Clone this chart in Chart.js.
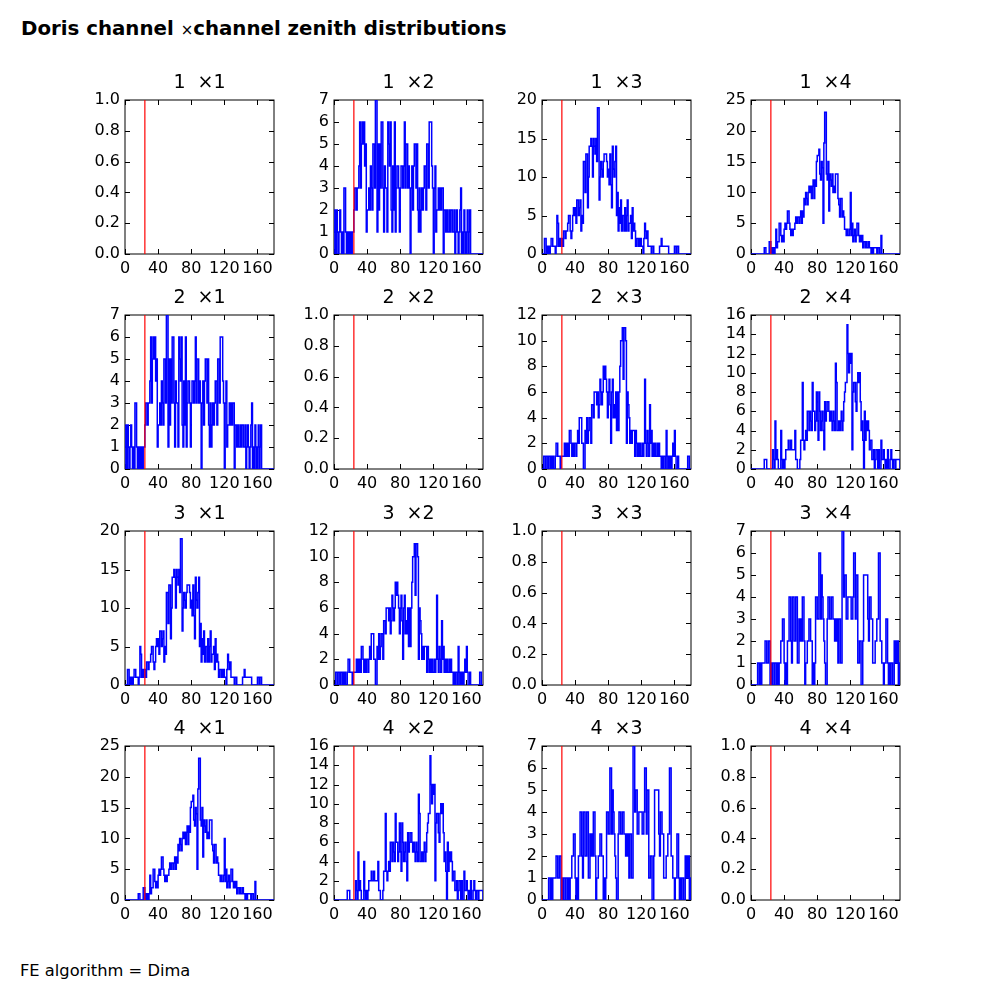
<!DOCTYPE html>
<html>
<head>
<meta charset="utf-8">
<script src="https://cdn.jsdelivr.net/npm/chart.js@4/dist/chart.umd.min.js"></script>
<style>
  body { margin: 0; background: #fff; width: 1000px; height: 1000px; position: relative; overflow: hidden; font-family: "DejaVu Sans", sans-serif; color: #000; }
  #title { position: absolute; left: 21px; top: 17px; font-weight: bold; font-size: 19.8px; white-space: nowrap; }
  #title .x { font-weight: normal; font-size: 15px; }
  #foot { position: absolute; left: 20px; top: 961px; font-size: 16.3px; white-space: nowrap; }
  canvas { position: absolute; }
</style>
</head>
<body>
<div id="title">Doris channel <span class="x">×</span>channel zenith distributions</div>
<div id="foot">FE algorithm = Dima</div>
<script>
// channels and cut
const channels = [1, 2, 3, 4];
const cutZenith = 24;
const xTicks = [0, 40, 80, 120, 160];
const xMax = 180;

// zenith histograms, 1 degree bins from 0 to 180 (pair i x j == j x i)
const h12 = [
  1,2,0,2,1,0,1,2,1,0, 1,0,3,3,1,0,1,0,1,0, 1,0,1,1,2,3,3,2,3,3,
  4,6,3,5,6,5,6,4,5,1, 2,2,3,2,4,3,2,5,5,3, 7,7,1,5,2,5,3,6,6,3,
  1,4,3,3,1,6,5,4,6,2, 1,4,2,6,1,3,4,4,3,1, 3,4,4,3,4,6,3,5,5,3,
  4,3,0,3,4,2,4,5,5,3, 5,2,1,3,1,2,3,2,3,4, 4,2,5,5,3,6,6,6,4,3,
  0,3,4,1,2,2,3,2,3,2, 3,3,0,2,2,1,2,1,1,2, 1,2,2,1,1,2,0,1,2,1,
  0,1,2,3,0,1,0,2,1,0, 1,2,0,1,2,0,0,0,0,0, 0,0,0,0,0,0,0,0,0,0
];
const h13 = [
  0,0,0,2,2,0,1,0,1,0, 1,2,2,1,1,1,0,1,5,4, 1,2,1,2,2,1,3,3,2,3,
  3,4,5,5,3,2,3,5,6,5, 6,4,7,7,5,6,7,3,5,4, 12,12,8,13,13,6,10,14,14,15,
  14,10,15,14,13,15,12,19,19,7, 10,12,11,10,12,13,13,13,12,10, 11,9,13,9,6,14,11,10,12,14,
  5,8,3,6,4,7,3,5,5,3, 6,3,5,7,3,4,4,5,2,6, 3,4,3,1,2,2,1,2,1,2,
  1,1,0,2,4,3,2,3,1,1, 1,1,0,1,1,0,0,0,0,0, 0,0,1,1,2,1,1,1,1,1,
  1,1,1,0,0,0,0,0,0,0, 1,1,0,1,1,0,0,0,0,0, 0,0,0,0,0,0,0,0,0,0
];
const h14 = [
  0,0,0,0,0,0,0,0,0,0, 0,0,0,0,0,0,1,1,0,0, 0,0,2,2,0,1,0,1,0,1,
  4,1,2,2,5,5,3,2,3,2, 4,5,4,5,7,7,5,4,3,4, 3,4,4,5,6,5,6,6,5,6,
  7,5,7,6,9,8,10,9,8,10, 11,10,11,9,11,12,9,12,11,15, 16,16,17,13,12,15,14,5,18,23,
  23,13,12,15,7,13,12,11,13,10, 11,10,13,13,13,9,8,6,9,9, 6,7,6,4,4,3,4,3,3,4,
  10,3,5,2,3,4,2,3,5,5, 3,2,3,2,3,1,2,2,1,2, 1,1,2,1,1,0,1,0,1,1,
  1,1,0,1,1,0,0,3,0,0, 0,0,0,0,0,0,0,0,0,0, 0,0,0,0,0,0,0,0,0,0
];
const h23 = [
  0,0,1,1,0,1,1,0,1,1, 0,1,0,1,0,0,1,2,2,1, 1,1,0,1,1,1,1,2,1,2,
  1,2,1,3,3,2,1,2,1,2, 2,1,2,3,2,4,4,4,2,2, 0,0,3,2,4,2,3,4,4,2,
  5,5,4,6,6,6,5,6,4,5, 7,6,5,6,8,7,8,7,6,4, 6,7,5,2,6,7,4,5,4,6,
  3,6,3,6,8,10,10,11,7,11, 11,10,2,6,5,4,2,3,2,3, 3,3,1,3,2,1,2,1,2,1,
  1,2,1,2,7,2,1,3,2,1, 5,2,3,1,2,1,2,1,1,2, 1,2,1,1,0,1,0,1,1,0,
  3,1,0,1,0,1,0,1,2,1, 3,1,0,0,1,0,0,0,0,0, 0,0,0,0,0,0,1,1,0,0
];
const h24 = [
  0,0,0,0,0,0,0,0,0,0, 0,0,0,0,0,0,1,1,1,0, 0,0,0,0,0,0,2,1,0,5,
  1,2,1,0,0,0,4,1,0,1, 0,1,2,2,2,3,2,2,3,2, 2,2,2,4,1,1,0,0,0,1,
  3,3,9,3,2,3,4,3,6,6, 4,6,5,4,9,6,6,4,5,8, 5,3,8,6,4,5,6,4,2,7,
  5,6,7,7,6,5,6,5,4,6, 5,4,11,9,4,4,5,4,5,6, 4,5,7,8,9,9,15,12,10,12,
  11,12,2,8,9,9,7,6,9,10, 9,10,7,4,5,3,0,6,3,5, 4,5,4,2,3,3,1,1,2,0,
  1,2,2,0,2,0,0,3,1,1, 2,1,0,1,0,2,0,0,1,2, 1,0,1,1,0,1,1,1,1,1
];
const h34 = [
  0,0,0,0,0,0,0,0,1,1, 0,1,0,1,1,1,1,2,2,1, 1,2,2,0,1,0,1,1,0,1,
  1,0,1,0,1,1,2,2,3,3, 1,0,1,0,2,2,4,4,2,1, 4,4,2,2,4,4,1,1,3,2,
  3,2,4,4,2,0,1,1,2,2, 3,3,2,2,0,1,0,1,4,4, 3,3,6,6,3,5,4,3,2,1,
  0,0,3,4,4,3,3,4,4,3, 3,2,3,2,3,1,3,3,1,1, 7,7,4,5,5,3,3,4,4,4,
  4,3,3,4,6,6,3,5,5,1, 1,2,2,0,0,2,5,5,5,5, 5,3,2,4,4,3,3,1,1,1,
  2,2,3,3,6,6,2,2,1,1, 0,1,1,3,3,1,0,1,0,1, 1,0,0,2,1,2,1,2,0,1
];

// y tick labels per pair
const yTicksEmpty = [0, 0.2, 0.4, 0.6, 0.8, 1.0];
const yTicks12 = [0, 1, 2, 3, 4, 5, 6, 7];
const yTicks13 = [0, 5, 10, 15, 20];
const yTicks14 = [0, 5, 10, 15, 20, 25];
const yTicks23 = [0, 2, 4, 6, 8, 10, 12];
const yTicks24 = [0, 2, 4, 6, 8, 10, 12, 14, 16];
const yTicks34 = [0, 1, 2, 3, 4, 5, 6, 7];

const pairs = {
  '1-2': [h12, yTicks12], '1-3': [h13, yTicks13], '1-4': [h14, yTicks14],
  '2-3': [h23, yTicks23], '2-4': [h24, yTicks24], '3-4': [h34, yTicks34]
};

// panel layout (pixels)
const colLeft = [125, 334, 542, 751];
const rowTop = [100, 315, 531, 746];
const axW = 149, axH = 154;
const padL = 50, padT = 36, padR = 30, padB = 28;
const FONT = '"DejaVu Sans", sans-serif';

function stepPoints(counts) {
  const bw = xMax / counts.length;
  const pts = [{ x: 0, y: 0 }];
  counts.forEach((c, k) => pts.push({ x: k * bw, y: c }));
  pts.push({ x: xMax, y: counts[counts.length - 1] }, { x: xMax, y: 0 });
  return pts;
}

// box + inward ticks like the original
const framePlugin = {
  id: 'frame',
  beforeDatasetsDraw(chart) {
    const { ctx, chartArea: a, scales } = chart;
    ctx.save();
    ctx.strokeStyle = '#000';
    ctx.lineWidth = 1;
    ctx.strokeRect(a.left, a.top, a.right - a.left, a.bottom - a.top);
    ctx.beginPath();
    scales.x.ticks.forEach(t => {
      const px = Math.round(scales.x.getPixelForValue(t.value)) + 0.5;
      ctx.moveTo(px, a.bottom); ctx.lineTo(px, a.bottom - 5);
      ctx.moveTo(px, a.top); ctx.lineTo(px, a.top + 5);
    });
    scales.y.ticks.forEach(t => {
      const py = Math.round(scales.y.getPixelForValue(t.value)) + 0.5;
      ctx.moveTo(a.left, py); ctx.lineTo(a.left + 5, py);
      ctx.moveTo(a.right, py); ctx.lineTo(a.right - 5, py);
    });
    ctx.stroke();
    ctx.restore();
  }
};

channels.forEach((ci, r) => {
  channels.forEach((cj, c) => {
    const key = Math.min(ci, cj) + '-' + Math.max(ci, cj);
    const entry = ci === cj ? null : pairs[key];
    const counts = entry ? entry[0] : null;
    const yTicks = entry ? entry[1] : yTicksEmpty;
    const yMax = yTicks[yTicks.length - 1];

    const cv = document.createElement('canvas');
    cv.width = axW + padL + padR;
    cv.height = axH + padT + padB;
    cv.style.left = (colLeft[c] - padL) + 'px';
    cv.style.top = (rowTop[r] - padT) + 'px';
    cv.style.width = cv.width + 'px';
    cv.style.height = cv.height + 'px';
    document.body.appendChild(cv);

    const datasets = [{
      data: [{ x: cutZenith, y: 0 }, { x: cutZenith, y: yMax }],
      borderColor: '#ff0000', borderWidth: 1.2, pointRadius: 0
    }];
    if (counts) {
      datasets.push({
        data: stepPoints(counts),
        borderColor: '#0000ff', borderWidth: 1.5, pointRadius: 0, stepped: 'before'
      });
    }

    new Chart(cv, {
      type: 'line',
      data: { datasets },
      options: {
        responsive: false,
        animation: false,
        layout: { padding: { left: 0, top: 0, right: padR, bottom: 0 } },
        plugins: {
          legend: { display: false },
          tooltip: { enabled: false },
          title: {
            display: true,
            fullSize: false,
            text: ci + '  \u00d7' + cj,
            color: '#000',
            font: { family: FONT, size: 19, weight: 'normal', lineHeight: 1.2 },
            padding: { top: 8, bottom: 5.2 }
          }
        },
        scales: {
          x: {
            type: 'linear', min: 0, max: xMax,
            afterBuildTicks: s => { s.ticks = xTicks.map(v => ({ value: v })); },
            afterFit: s => { s.height = padB; },
            grid: { display: false, drawTicks: false },
            border: { display: false },
            ticks: { color: '#000', font: { family: FONT, size: 16 }, padding: 5, maxRotation: 0, autoSkip: false }
          },
          y: {
            type: 'linear', min: 0, max: yMax,
            afterBuildTicks: s => { s.ticks = yTicks.map(v => ({ value: v })); },
            afterFit: s => { s.width = padL; },
            grid: { display: false, drawTicks: false },
            border: { display: false },
            ticks: {
              color: '#000', font: { family: FONT, size: 16 }, padding: 5, autoSkip: false,
              callback: v => counts ? String(v) : v.toFixed(1)
            }
          }
        }
      },
      plugins: [framePlugin]
    });
  });
});
</script>
</body>
</html>
